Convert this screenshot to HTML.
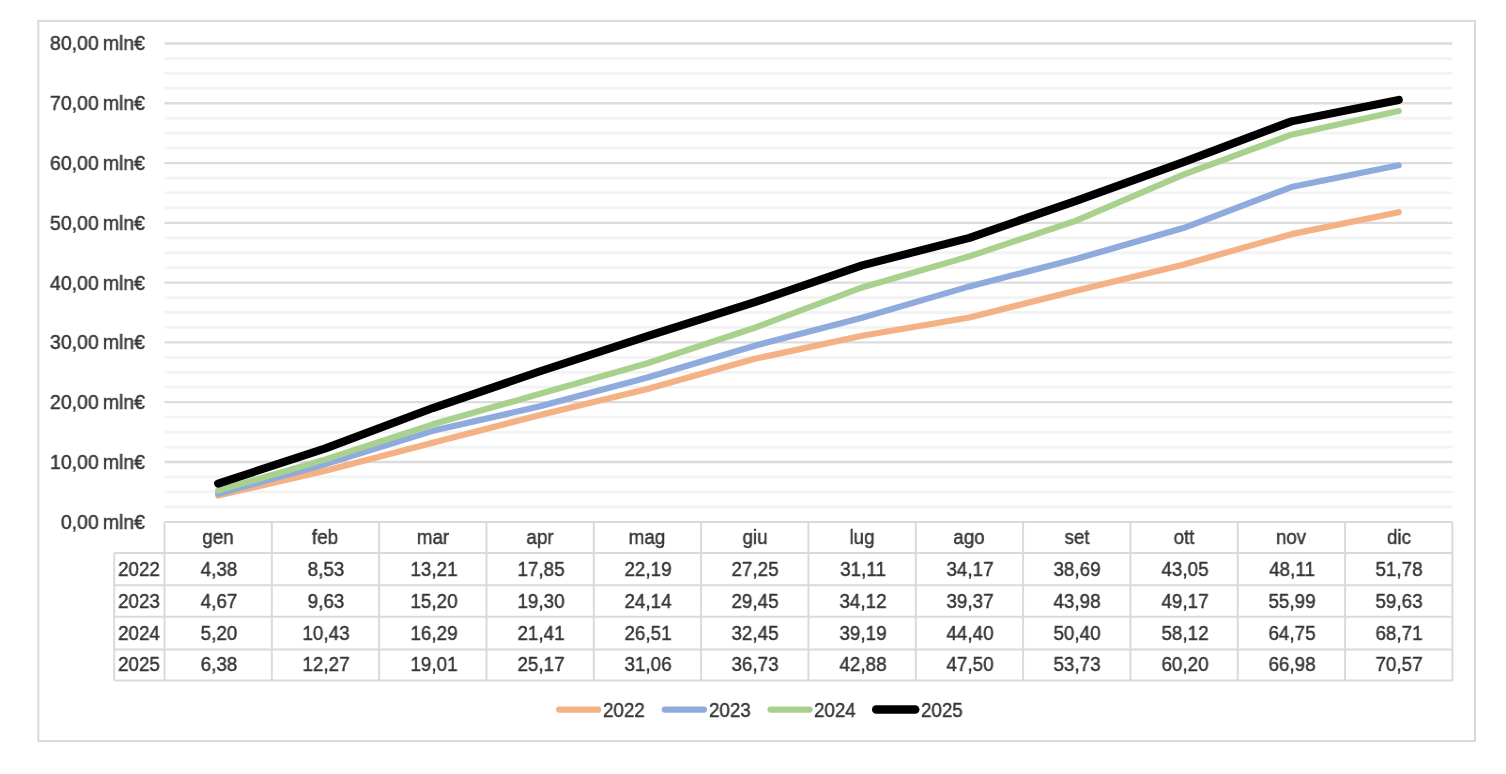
<!DOCTYPE html>
<html><head><meta charset="utf-8"><style>
html,body{margin:0;padding:0;background:#fff;width:1506px;height:774px;overflow:hidden}
.t{position:absolute;transform:scaleX(0.94);-webkit-text-stroke:0.45px #363636;will-change:transform;font-family:"Liberation Sans",sans-serif;font-size:20px;line-height:20px;color:#363636;white-space:nowrap}
#wrap{position:absolute;left:0;top:0;width:1506px;height:774px;filter:blur(0.4px)}
</style></head><body><div id="wrap">
<svg width="1506" height="774" viewBox="0 0 1506 774" style="position:absolute;left:0;top:0"><rect x="38.3" y="20.9" width="1436.7" height="720.2" fill="#fff" stroke="#dadada" stroke-width="2"/><line x1="164.5" x2="1452.4" y1="506.76" y2="506.76" stroke="#f3f3f3" stroke-width="2.8"/><line x1="164.5" x2="1452.4" y1="491.82" y2="491.82" stroke="#f3f3f3" stroke-width="2.8"/><line x1="164.5" x2="1452.4" y1="476.87" y2="476.87" stroke="#f3f3f3" stroke-width="2.8"/><line x1="164.5" x2="1452.4" y1="461.93" y2="461.93" stroke="#dcdcdc" stroke-width="2.4"/><line x1="164.5" x2="1452.4" y1="446.99" y2="446.99" stroke="#f3f3f3" stroke-width="2.8"/><line x1="164.5" x2="1452.4" y1="432.05" y2="432.05" stroke="#f3f3f3" stroke-width="2.8"/><line x1="164.5" x2="1452.4" y1="417.10" y2="417.10" stroke="#f3f3f3" stroke-width="2.8"/><line x1="164.5" x2="1452.4" y1="402.16" y2="402.16" stroke="#dcdcdc" stroke-width="2.4"/><line x1="164.5" x2="1452.4" y1="387.22" y2="387.22" stroke="#f3f3f3" stroke-width="2.8"/><line x1="164.5" x2="1452.4" y1="372.28" y2="372.28" stroke="#f3f3f3" stroke-width="2.8"/><line x1="164.5" x2="1452.4" y1="357.34" y2="357.34" stroke="#f3f3f3" stroke-width="2.8"/><line x1="164.5" x2="1452.4" y1="342.39" y2="342.39" stroke="#dcdcdc" stroke-width="2.4"/><line x1="164.5" x2="1452.4" y1="327.45" y2="327.45" stroke="#f3f3f3" stroke-width="2.8"/><line x1="164.5" x2="1452.4" y1="312.51" y2="312.51" stroke="#f3f3f3" stroke-width="2.8"/><line x1="164.5" x2="1452.4" y1="297.57" y2="297.57" stroke="#f3f3f3" stroke-width="2.8"/><line x1="164.5" x2="1452.4" y1="282.62" y2="282.62" stroke="#dcdcdc" stroke-width="2.4"/><line x1="164.5" x2="1452.4" y1="267.68" y2="267.68" stroke="#f3f3f3" stroke-width="2.8"/><line x1="164.5" x2="1452.4" y1="252.74" y2="252.74" stroke="#f3f3f3" stroke-width="2.8"/><line x1="164.5" x2="1452.4" y1="237.80" y2="237.80" stroke="#f3f3f3" stroke-width="2.8"/><line x1="164.5" x2="1452.4" y1="222.86" y2="222.86" stroke="#dcdcdc" stroke-width="2.4"/><line x1="164.5" x2="1452.4" y1="207.91" y2="207.91" stroke="#f3f3f3" stroke-width="2.8"/><line x1="164.5" x2="1452.4" y1="192.97" y2="192.97" stroke="#f3f3f3" stroke-width="2.8"/><line x1="164.5" x2="1452.4" y1="178.03" y2="178.03" stroke="#f3f3f3" stroke-width="2.8"/><line x1="164.5" x2="1452.4" y1="163.09" y2="163.09" stroke="#dcdcdc" stroke-width="2.4"/><line x1="164.5" x2="1452.4" y1="148.15" y2="148.15" stroke="#f3f3f3" stroke-width="2.8"/><line x1="164.5" x2="1452.4" y1="133.20" y2="133.20" stroke="#f3f3f3" stroke-width="2.8"/><line x1="164.5" x2="1452.4" y1="118.26" y2="118.26" stroke="#f3f3f3" stroke-width="2.8"/><line x1="164.5" x2="1452.4" y1="103.32" y2="103.32" stroke="#dcdcdc" stroke-width="2.4"/><line x1="164.5" x2="1452.4" y1="88.38" y2="88.38" stroke="#f3f3f3" stroke-width="2.8"/><line x1="164.5" x2="1452.4" y1="73.43" y2="73.43" stroke="#f3f3f3" stroke-width="2.8"/><line x1="164.5" x2="1452.4" y1="58.49" y2="58.49" stroke="#f3f3f3" stroke-width="2.8"/><line x1="164.5" x2="1452.4" y1="43.55" y2="43.55" stroke="#dcdcdc" stroke-width="2.4"/><line x1="164.5" x2="1452.4" y1="522.0" y2="522.0" stroke="#dadada" stroke-width="2"/><line x1="114.2" x2="1452.4" y1="553.0" y2="553.0" stroke="#dadada" stroke-width="2"/><line x1="114.2" x2="1452.4" y1="585.3" y2="585.3" stroke="#dadada" stroke-width="2"/><line x1="114.2" x2="1452.4" y1="616.8" y2="616.8" stroke="#dadada" stroke-width="2"/><line x1="114.2" x2="1452.4" y1="649.4" y2="649.4" stroke="#dadada" stroke-width="2"/><line x1="114.2" x2="1452.4" y1="680.6" y2="680.6" stroke="#dadada" stroke-width="2"/><line x1="114.2" x2="114.2" y1="553.0" y2="680.6" stroke="#dadada" stroke-width="2"/><line x1="164.50" x2="164.50" y1="522.0" y2="680.6" stroke="#dadada" stroke-width="2"/><line x1="271.82" x2="271.82" y1="522.0" y2="680.6" stroke="#dadada" stroke-width="2"/><line x1="379.15" x2="379.15" y1="522.0" y2="680.6" stroke="#dadada" stroke-width="2"/><line x1="486.48" x2="486.48" y1="522.0" y2="680.6" stroke="#dadada" stroke-width="2"/><line x1="593.80" x2="593.80" y1="522.0" y2="680.6" stroke="#dadada" stroke-width="2"/><line x1="701.12" x2="701.12" y1="522.0" y2="680.6" stroke="#dadada" stroke-width="2"/><line x1="808.45" x2="808.45" y1="522.0" y2="680.6" stroke="#dadada" stroke-width="2"/><line x1="915.77" x2="915.77" y1="522.0" y2="680.6" stroke="#dadada" stroke-width="2"/><line x1="1023.10" x2="1023.10" y1="522.0" y2="680.6" stroke="#dadada" stroke-width="2"/><line x1="1130.43" x2="1130.43" y1="522.0" y2="680.6" stroke="#dadada" stroke-width="2"/><line x1="1237.75" x2="1237.75" y1="522.0" y2="680.6" stroke="#dadada" stroke-width="2"/><line x1="1345.08" x2="1345.08" y1="522.0" y2="680.6" stroke="#dadada" stroke-width="2"/><line x1="1452.40" x2="1452.40" y1="522.0" y2="680.6" stroke="#dadada" stroke-width="2"/><polyline points="218.16,495.52 325.49,470.72 432.81,442.75 540.14,415.01 647.46,389.07 754.79,358.83 862.11,335.76 969.44,317.47 1076.76,290.45 1184.09,264.40 1291.41,234.15 1398.74,212.22" fill="none" stroke="#F4B183" stroke-width="6.2" stroke-linecap="round" stroke-linejoin="round"/><polyline points="218.16,493.79 325.49,464.14 432.81,430.85 540.14,406.35 647.46,377.42 754.79,345.68 862.11,317.77 969.44,286.39 1076.76,258.84 1184.09,227.82 1291.41,187.05 1398.74,165.30" fill="none" stroke="#8FAADC" stroke-width="6.2" stroke-linecap="round" stroke-linejoin="round"/><polyline points="218.16,490.62 325.49,459.36 432.81,424.34 540.14,393.74 647.46,363.25 754.79,327.75 862.11,287.47 969.44,256.33 1076.76,220.47 1184.09,174.32 1291.41,134.70 1398.74,111.03" fill="none" stroke="#A9D18E" stroke-width="6.2" stroke-linecap="round" stroke-linejoin="round"/><polyline points="218.16,483.57 325.49,448.36 432.81,408.08 540.14,371.26 647.46,336.06 754.79,302.17 862.11,265.41 969.44,237.80 1076.76,200.56 1184.09,161.89 1291.41,121.37 1398.74,99.91" fill="none" stroke="#000000" stroke-width="8.1" stroke-linecap="round" stroke-linejoin="round"/><line x1="559.20" x2="598.20" y1="709.55" y2="709.55" stroke="#F4B183" stroke-width="6.3" stroke-linecap="round"/><line x1="664.87" x2="703.87" y1="709.55" y2="709.55" stroke="#8FAADC" stroke-width="6.3" stroke-linecap="round"/><line x1="770.54" x2="809.54" y1="709.55" y2="709.55" stroke="#A9D18E" stroke-width="6.3" stroke-linecap="round"/><line x1="876.21" x2="915.21" y1="709.55" y2="709.55" stroke="#000000" stroke-width="8.5" stroke-linecap="round"/></svg>
<div class="t" style="left:-54.90px;top:511.59px;width:200px;text-align:right;transform-origin:200px 50%;transform:scaleX(0.975)">0,00<span style="margin-left:-1.5px"> </span>mln€</div><div class="t" style="left:-54.90px;top:451.82px;width:200px;text-align:right;transform-origin:200px 50%;transform:scaleX(0.975)">10,00<span style="margin-left:-1.5px"> </span>mln€</div><div class="t" style="left:-54.90px;top:392.05px;width:200px;text-align:right;transform-origin:200px 50%;transform:scaleX(0.975)">20,00<span style="margin-left:-1.5px"> </span>mln€</div><div class="t" style="left:-54.90px;top:332.28px;width:200px;text-align:right;transform-origin:200px 50%;transform:scaleX(0.975)">30,00<span style="margin-left:-1.5px"> </span>mln€</div><div class="t" style="left:-54.90px;top:272.51px;width:200px;text-align:right;transform-origin:200px 50%;transform:scaleX(0.975)">40,00<span style="margin-left:-1.5px"> </span>mln€</div><div class="t" style="left:-54.90px;top:212.75px;width:200px;text-align:right;transform-origin:200px 50%;transform:scaleX(0.975)">50,00<span style="margin-left:-1.5px"> </span>mln€</div><div class="t" style="left:-54.90px;top:152.98px;width:200px;text-align:right;transform-origin:200px 50%;transform:scaleX(0.975)">60,00<span style="margin-left:-1.5px"> </span>mln€</div><div class="t" style="left:-54.90px;top:93.21px;width:200px;text-align:right;transform-origin:200px 50%;transform:scaleX(0.975)">70,00<span style="margin-left:-1.5px"> </span>mln€</div><div class="t" style="left:-54.90px;top:33.44px;width:200px;text-align:right;transform-origin:200px 50%;transform:scaleX(0.975)">80,00<span style="margin-left:-1.5px"> </span>mln€</div><div class="t" style="left:158.16px;top:527.19px;width:120px;text-align:center;transform-origin:60px 50%">gen</div><div class="t" style="left:265.49px;top:527.19px;width:120px;text-align:center;transform-origin:60px 50%">feb</div><div class="t" style="left:372.81px;top:527.19px;width:120px;text-align:center;transform-origin:60px 50%">mar</div><div class="t" style="left:480.14px;top:527.19px;width:120px;text-align:center;transform-origin:60px 50%">apr</div><div class="t" style="left:587.46px;top:527.19px;width:120px;text-align:center;transform-origin:60px 50%">mag</div><div class="t" style="left:694.79px;top:527.19px;width:120px;text-align:center;transform-origin:60px 50%">giu</div><div class="t" style="left:802.11px;top:527.19px;width:120px;text-align:center;transform-origin:60px 50%">lug</div><div class="t" style="left:909.44px;top:527.19px;width:120px;text-align:center;transform-origin:60px 50%">ago</div><div class="t" style="left:1016.76px;top:527.19px;width:120px;text-align:center;transform-origin:60px 50%">set</div><div class="t" style="left:1124.09px;top:527.19px;width:120px;text-align:center;transform-origin:60px 50%">ott</div><div class="t" style="left:1231.41px;top:527.19px;width:120px;text-align:center;transform-origin:60px 50%">nov</div><div class="t" style="left:1338.74px;top:527.19px;width:120px;text-align:center;transform-origin:60px 50%">dic</div><div class="t" style="left:79.20px;top:558.89px;width:120px;text-align:center;transform-origin:60px 50%">2022</div><div class="t" style="left:158.86px;top:558.89px;width:120px;text-align:center;transform-origin:60px 50%">4,38</div><div class="t" style="left:266.19px;top:558.89px;width:120px;text-align:center;transform-origin:60px 50%">8,53</div><div class="t" style="left:373.51px;top:558.89px;width:120px;text-align:center;transform-origin:60px 50%">13,21</div><div class="t" style="left:480.84px;top:558.89px;width:120px;text-align:center;transform-origin:60px 50%">17,85</div><div class="t" style="left:588.16px;top:558.89px;width:120px;text-align:center;transform-origin:60px 50%">22,19</div><div class="t" style="left:695.49px;top:558.89px;width:120px;text-align:center;transform-origin:60px 50%">27,25</div><div class="t" style="left:802.81px;top:558.89px;width:120px;text-align:center;transform-origin:60px 50%">31,11</div><div class="t" style="left:910.14px;top:558.89px;width:120px;text-align:center;transform-origin:60px 50%">34,17</div><div class="t" style="left:1017.46px;top:558.89px;width:120px;text-align:center;transform-origin:60px 50%">38,69</div><div class="t" style="left:1124.79px;top:558.89px;width:120px;text-align:center;transform-origin:60px 50%">43,05</div><div class="t" style="left:1232.11px;top:558.89px;width:120px;text-align:center;transform-origin:60px 50%">48,11</div><div class="t" style="left:1339.44px;top:558.89px;width:120px;text-align:center;transform-origin:60px 50%">51,78</div><div class="t" style="left:79.20px;top:590.79px;width:120px;text-align:center;transform-origin:60px 50%">2023</div><div class="t" style="left:158.86px;top:590.79px;width:120px;text-align:center;transform-origin:60px 50%">4,67</div><div class="t" style="left:266.19px;top:590.79px;width:120px;text-align:center;transform-origin:60px 50%">9,63</div><div class="t" style="left:373.51px;top:590.79px;width:120px;text-align:center;transform-origin:60px 50%">15,20</div><div class="t" style="left:480.84px;top:590.79px;width:120px;text-align:center;transform-origin:60px 50%">19,30</div><div class="t" style="left:588.16px;top:590.79px;width:120px;text-align:center;transform-origin:60px 50%">24,14</div><div class="t" style="left:695.49px;top:590.79px;width:120px;text-align:center;transform-origin:60px 50%">29,45</div><div class="t" style="left:802.81px;top:590.79px;width:120px;text-align:center;transform-origin:60px 50%">34,12</div><div class="t" style="left:910.14px;top:590.79px;width:120px;text-align:center;transform-origin:60px 50%">39,37</div><div class="t" style="left:1017.46px;top:590.79px;width:120px;text-align:center;transform-origin:60px 50%">43,98</div><div class="t" style="left:1124.79px;top:590.79px;width:120px;text-align:center;transform-origin:60px 50%">49,17</div><div class="t" style="left:1232.11px;top:590.79px;width:120px;text-align:center;transform-origin:60px 50%">55,99</div><div class="t" style="left:1339.44px;top:590.79px;width:120px;text-align:center;transform-origin:60px 50%">59,63</div><div class="t" style="left:79.20px;top:622.79px;width:120px;text-align:center;transform-origin:60px 50%">2024</div><div class="t" style="left:158.86px;top:622.79px;width:120px;text-align:center;transform-origin:60px 50%">5,20</div><div class="t" style="left:266.19px;top:622.79px;width:120px;text-align:center;transform-origin:60px 50%">10,43</div><div class="t" style="left:373.51px;top:622.79px;width:120px;text-align:center;transform-origin:60px 50%">16,29</div><div class="t" style="left:480.84px;top:622.79px;width:120px;text-align:center;transform-origin:60px 50%">21,41</div><div class="t" style="left:588.16px;top:622.79px;width:120px;text-align:center;transform-origin:60px 50%">26,51</div><div class="t" style="left:695.49px;top:622.79px;width:120px;text-align:center;transform-origin:60px 50%">32,45</div><div class="t" style="left:802.81px;top:622.79px;width:120px;text-align:center;transform-origin:60px 50%">39,19</div><div class="t" style="left:910.14px;top:622.79px;width:120px;text-align:center;transform-origin:60px 50%">44,40</div><div class="t" style="left:1017.46px;top:622.79px;width:120px;text-align:center;transform-origin:60px 50%">50,40</div><div class="t" style="left:1124.79px;top:622.79px;width:120px;text-align:center;transform-origin:60px 50%">58,12</div><div class="t" style="left:1232.11px;top:622.79px;width:120px;text-align:center;transform-origin:60px 50%">64,75</div><div class="t" style="left:1339.44px;top:622.79px;width:120px;text-align:center;transform-origin:60px 50%">68,71</div><div class="t" style="left:79.20px;top:654.29px;width:120px;text-align:center;transform-origin:60px 50%">2025</div><div class="t" style="left:158.86px;top:654.29px;width:120px;text-align:center;transform-origin:60px 50%">6,38</div><div class="t" style="left:266.19px;top:654.29px;width:120px;text-align:center;transform-origin:60px 50%">12,27</div><div class="t" style="left:373.51px;top:654.29px;width:120px;text-align:center;transform-origin:60px 50%">19,01</div><div class="t" style="left:480.84px;top:654.29px;width:120px;text-align:center;transform-origin:60px 50%">25,17</div><div class="t" style="left:588.16px;top:654.29px;width:120px;text-align:center;transform-origin:60px 50%">31,06</div><div class="t" style="left:695.49px;top:654.29px;width:120px;text-align:center;transform-origin:60px 50%">36,73</div><div class="t" style="left:802.81px;top:654.29px;width:120px;text-align:center;transform-origin:60px 50%">42,88</div><div class="t" style="left:910.14px;top:654.29px;width:120px;text-align:center;transform-origin:60px 50%">47,50</div><div class="t" style="left:1017.46px;top:654.29px;width:120px;text-align:center;transform-origin:60px 50%">53,73</div><div class="t" style="left:1124.79px;top:654.29px;width:120px;text-align:center;transform-origin:60px 50%">60,20</div><div class="t" style="left:1232.11px;top:654.29px;width:120px;text-align:center;transform-origin:60px 50%">66,98</div><div class="t" style="left:1339.44px;top:654.29px;width:120px;text-align:center;transform-origin:60px 50%">70,57</div><div class="t" style="left:603.10px;top:699.89px;transform-origin:0 50%">2022</div><div class="t" style="left:708.77px;top:699.89px;transform-origin:0 50%">2023</div><div class="t" style="left:814.44px;top:699.89px;transform-origin:0 50%">2024</div><div class="t" style="left:920.61px;top:699.89px;transform-origin:0 50%">2025</div>
</div></body></html>
